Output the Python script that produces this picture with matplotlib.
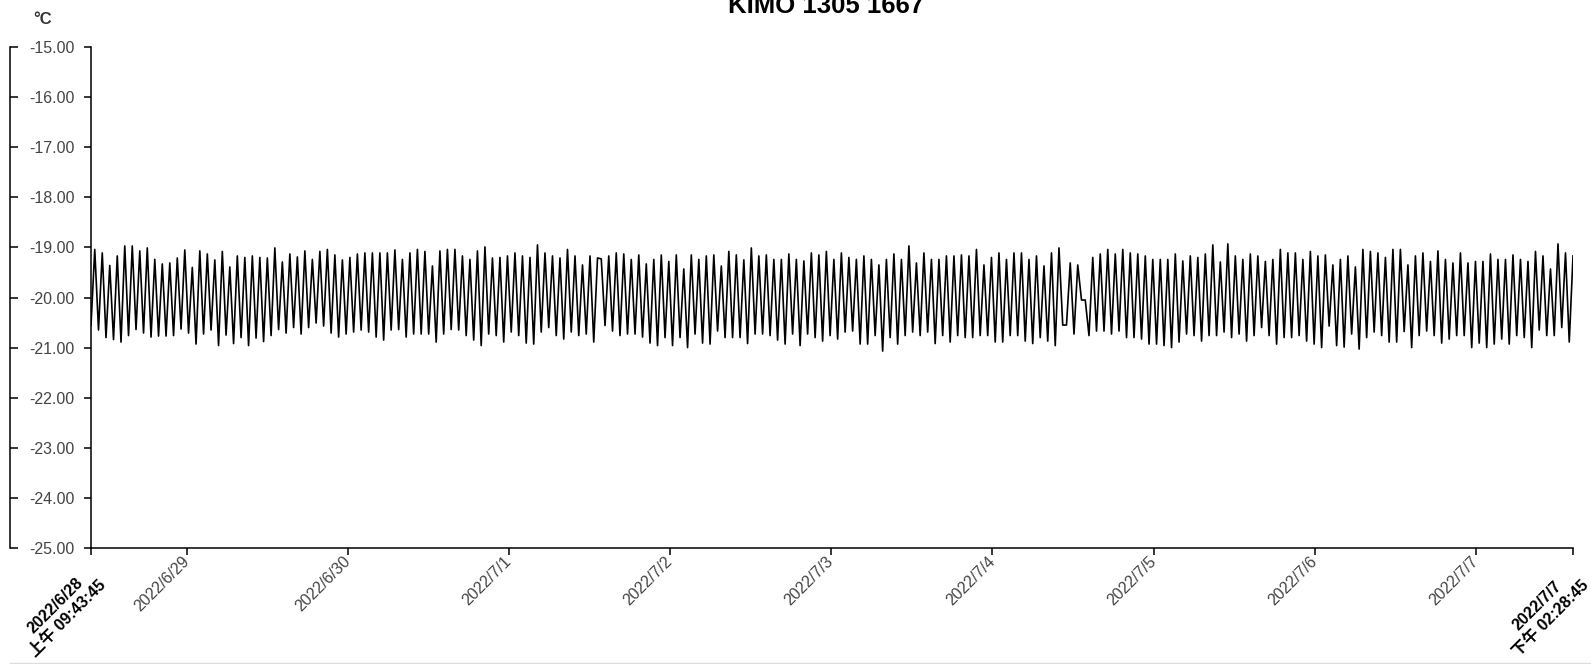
import numpy as np
import pandas as pd
import matplotlib.pyplot as plt
from datetime import datetime

plt.rcParams['font.family'] = ['Liberation Sans', 'Noto Sans CJK SC']

# Textos y eje temporal
title = 'KIMO 1305 1667'
unit = '°C'
t_start = datetime(2022, 6, 28, 9, 43, 45)
t_end = datetime(2022, 7, 7, 14, 28, 45)
day_ticks = [datetime(2022, 6, 29), datetime(2022, 6, 30), datetime(2022, 7, 1),
             datetime(2022, 7, 2), datetime(2022, 7, 3), datetime(2022, 7, 4),
             datetime(2022, 7, 5), datetime(2022, 7, 6), datetime(2022, 7, 7)]
day_labels = ['2022/6/29', '2022/6/30', '2022/7/1', '2022/7/2', '2022/7/3',
              '2022/7/4', '2022/7/5', '2022/7/6', '2022/7/7']
start_label = '2022/6/28\n上午 09:43:45'
end_label = '2022/7/7\n下午 02:28:45'
y_ticks = [-15, -16, -17, -18, -19, -20, -21, -22, -23, -24, -25]

# Temperaturas (picos y valles), por tramos
seg_a = [-20.56, -19.04, -20.65, -19.11, -20.80, -19.36, -20.84, -19.17, -20.89, -18.97,
         -20.76, -18.97, -20.64, -19.07, -20.71, -19.01, -20.79, -19.24, -20.77, -19.33,
         -20.77, -19.31, -20.76, -19.21, -20.63, -19.05, -20.71, -19.40, -20.93, -19.07,
         -20.73, -19.13, -20.65, -19.25, -20.96, -19.08, -20.75, -19.39, -20.92, -19.17,
         -20.80, -19.20, -20.96, -19.17, -20.81, -19.20, -20.88, -19.21, -20.76, -19.01,
         -20.64, -19.29, -20.71, -19.13, -20.60, -19.19, -20.73, -19.07, -20.60, -19.24,
         -20.51, -19.08, -20.57, -19.04, -20.71]
seg_b = [-19.15, -20.79, -19.25, -20.73, -19.20, -20.69, -19.13, -20.65, -19.11, -20.69,
         -19.11, -20.79, -19.11, -20.85, -19.11, -20.65, -19.05, -20.64, -19.24, -20.79,
         -19.11, -20.73, -19.04, -20.73, -19.08, -20.73, -19.37, -20.89, -19.07, -20.73,
         -19.04, -20.64, -19.04, -20.65, -19.17, -20.76, -19.24, -20.85, -19.07, -20.96,
         -18.99, -20.73, -19.21, -20.76, -19.20, -20.89, -19.17, -20.69, -19.11, -20.76,
         -19.17, -20.91, -19.20, -20.93, -18.95, -20.69, -19.11, -20.60, -19.17, -20.76,
         -19.21, -20.83, -19.04, -20.69, -19.17, -20.76, -19.35, -20.73]
seg_c = [-19.17, -20.89, -19.21, -19.23, -20.56, -19.17, -20.67, -19.11, -20.76, -19.13,
         -20.73, -19.24, -20.73, -19.15, -20.79, -19.33, -20.91, -19.24, -20.96, -19.15,
         -20.80, -19.28, -20.96, -19.15, -20.80, -19.43, -21.00, -19.15, -20.73, -19.24,
         -20.91, -19.17, -20.93, -19.15, -20.67, -19.37, -20.80, -19.08, -20.80, -19.15,
         -20.80, -19.25, -20.92, -19.01, -20.73, -19.17, -20.73, -19.15, -20.76, -19.24,
         -20.85, -19.24, -20.93, -19.13, -20.73, -19.24, -20.96, -19.27, -20.73, -19.11,
         -20.80, -19.15, -20.87, -19.08]
seg_d = [-20.76, -19.24, -20.83, -19.11, -20.69, -19.20, -20.67, -19.24, -20.93, -19.17,
         -20.93, -19.24, -20.76, -19.35, -21.07, -19.24, -20.80, -19.13, -20.93, -19.24,
         -20.76, -18.97, -20.69, -19.31, -20.76, -19.11, -20.69, -19.24, -20.92, -19.24,
         -20.76, -19.17, -20.89, -19.17, -20.76, -19.15, -20.80, -19.17, -20.80, -19.04,
         -20.76, -19.35, -20.76, -19.20, -20.89, -19.11, -20.89, -19.24, -20.76, -19.11,
         -20.76, -19.11, -20.87, -19.24, -20.92, -19.17, -20.80, -19.37, -20.87, -19.11,
         -20.96, -19.01, -20.55, -20.55, -19.31, -20.73, -19.35]
seg_e = [-20.05, -20.05, -20.76, -19.20, -20.67, -19.13, -20.67, -19.04, -20.73, -19.13,
         -20.67, -19.04, -20.80, -19.11, -20.80, -19.13, -20.83, -19.17, -20.93, -19.24,
         -20.93, -19.24, -20.96, -19.24, -21.00, -19.13, -20.89, -19.27, -20.73, -19.17,
         -20.76, -19.20, -20.87, -19.13, -20.76, -18.95, -20.76, -19.29, -20.69, -18.93,
         -20.80, -19.17, -20.73, -19.24, -20.87, -19.13, -20.76, -19.17, -20.60, -19.28,
         -20.76, -19.24, -20.93, -19.04, -20.80, -19.11, -20.80, -19.11, -20.76, -19.24,
         -20.87, -19.08, -20.93, -19.17, -21.00]
seg_f = [-19.15, -20.57, -19.35, -20.96, -19.24, -20.99, -19.17, -20.73, -19.39, -21.03,
         -19.04, -20.80, -19.08, -20.69, -19.11, -20.76, -19.20, -20.89, -19.04, -20.89,
         -19.04, -20.68, -19.35, -21.00, -19.17, -20.76, -19.11, -20.67, -19.28, -20.76,
         -19.07, -20.91, -19.24, -20.83, -19.31, -20.76, -19.11, -20.76, -19.31, -21.00,
         -19.28, -20.91, -19.28, -21.00, -19.13, -20.93, -19.24, -20.83, -19.24, -20.93,
         -19.15, -20.76, -19.24, -20.80, -19.28, -21.00, -19.08, -20.65, -19.17, -20.76,
         -19.43, -20.76, -18.93, -20.60, -19.11, -20.89, -19.17]

temps = np.concatenate([seg_a, seg_b, seg_c, seg_d, seg_e, seg_f])
times = pd.date_range(t_start, t_end, periods=len(temps))

fig = plt.figure(figsize=(15.91, 6.64), dpi=100)
ax = fig.add_axes([91 / 1591, 1 - 548 / 664, 1482 / 1591, 501 / 664])

ax.plot(times, temps, color='black', lw=1.2)

ax.set_ylim(-25, -15)
ax.set_xlim(t_start, t_end)
ax.set_yticks(y_ticks)
ax.set_yticklabels([f'{v:.2f}' for v in y_ticks])
ax.set_xticks([t_start] + day_ticks + [t_end])
ax.set_xticklabels([''] + day_labels + [''])

for s in ['top', 'right']:
    ax.spines[s].set_visible(False)
for s in ['left', 'bottom']:
    ax.spines[s].set_linewidth(1.1)

ax.tick_params(axis='y', length=5, width=1.1, pad=7, labelsize=11.5, labelcolor='#444444')
ax.tick_params(axis='x', length=5, width=1.1, pad=3, labelsize=11.5, labelcolor='#444444')

for lab in ax.get_xticklabels():
    lab.set_rotation(45)
    lab.set_rotation_mode('anchor')
    lab.set_ha('right')
    lab.set_va('center')

# etiquetas de inicio y fin (dos lineas, negrita)
for t, txt in [(t_start, start_label), (t_end, end_label)]:
    ax.annotate(txt, xy=(t, 0), xycoords=('data', 'axes fraction'),
                xytext=(-4, -12), textcoords='offset points',
                rotation=45, rotation_mode='anchor', ha='right', va='top',
                multialignment='center', linespacing=1.3,
                fontsize=11.5, fontweight='bold', color='black',
                annotation_clip=False)

# eje secundario tipo corchete a la izquierda
sec = ax.secondary_yaxis(-81 / 1482)
sec.set_yticks(y_ticks)
sec.tick_params(axis='y', direction='in', length=5.5, width=1.1, labelleft=False)
sec.spines['left'].set_linewidth(1.1)

fig.text(826 / 1591, 1 - 13 / 664, title, ha='center', va='baseline',
         fontsize=18.5, fontweight='bold')
fig.text(43 / 1591, 1 - 19 / 664, unit, ha='center', va='center',
         fontsize=12, fontweight='bold', color='#333333')

fig.add_artist(plt.Line2D([10 / 1591, 1], [1 - 663 / 664] * 2, color='#dddddd', lw=1))

plt.savefig('out.png', dpi=100)
